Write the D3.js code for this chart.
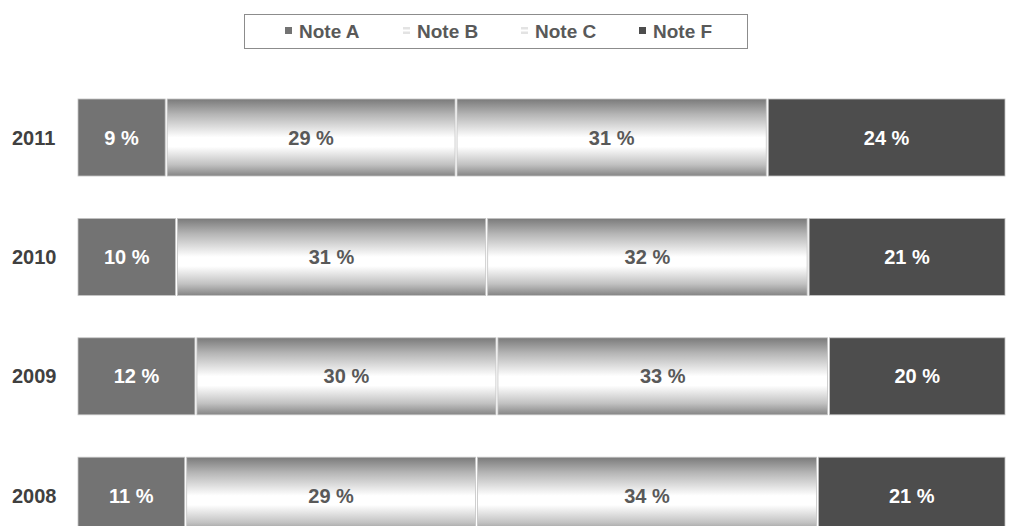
<!DOCTYPE html>
<html lang="en">
<head>
    <meta charset="UTF-8">
    <script src="https://d3js.org/d3.v7.min.js"></script>
    <title>Notes</title>
    <style>
        body { margin: 0; background: #fff; }
        text { font-family: "Liberation Sans", Arial, sans-serif; font-weight: bold; }
    </style>
</head>
<body>
<script>
    // Data
    const years = ["2011", "2010", "2009", "2008"];
    const series = ["Note A", "Note B", "Note C", "Note F"];
    // shares of each bar as drawn
    const shareA = [9.6, 10.7, 12.8, 11.7];
    const shareB = [31.2, 33.4, 32.4, 31.3];
    const shareC = [33.5, 34.6, 35.7, 36.7];
    const shareF = [25.7, 21.3, 19.1, 20.3];
    // printed labels
    const labelA = [9, 10, 12, 11];
    const labelB = [29, 31, 30, 29];
    const labelC = [31, 32, 33, 34];
    const labelF = [24, 21, 20, 21];

    const width = 1011, height = 526;
    const left = 77, right = 1006;

    const shares = {"Note A": shareA, "Note B": shareB, "Note C": shareC, "Note F": shareF};
    const labels = {"Note A": labelA, "Note B": labelB, "Note C": labelC, "Note F": labelF};

    const rows = years.map((y, i) => {
        const r = {year: y, idx: i};
        series.forEach(s => r[s] = shares[s][i]);
        return r;
    });

    const fills = {"Note A": "#737373", "Note B": "url(#shine)", "Note C": "url(#shine)", "Note F": "#4d4d4d"};
    const textCol = {"Note A": "#ffffff", "Note B": "#595959", "Note C": "#595959", "Note F": "#ffffff"};

    const svg = d3.select("body").append("svg")
        .attr("width", width)
        .attr("height", height);

    // Gradient for the light segments
    const defs = svg.append("defs");
    const grad = defs.append("linearGradient")
        .attr("id", "shine")
        .attr("x1", 0).attr("y1", 0).attr("x2", 0).attr("y2", 1);
    [[0, "#7a7a7a"], [0.2, "#b5b5b5"], [0.5, "#ffffff"], [0.62, "#ffffff"], [0.85, "#c2c2c2"], [1, "#858585"]]
        .forEach(s => grad.append("stop").attr("offset", s[0]).attr("stop-color", s[1]));

    const stack = d3.stack().keys(series).offset(d3.stackOffsetExpand);
    const stacked = stack(rows);

    const x = d3.scaleLinear().domain([0, 1]).range([left, right]);
    const y = d3.scaleBand()
        .domain(years)
        .range([77.8, 555.4])
        .paddingInner(0.355)
        .paddingOuter(0.1775);

    // Year labels
    svg.append("g").selectAll("text")
        .data(years)
        .enter().append("text")
        .attr("x", 12)
        .attr("y", d => y(d) + y.bandwidth() / 2)
        .attr("dy", "0.35em")
        .attr("font-size", 20)
        .attr("fill", "#404040")
        .text(d => d);

    // Segments
    const layer = svg.append("g").selectAll("g")
        .data(stacked)
        .enter().append("g");

    layer.selectAll("rect")
        .data(d => d.map(p => ({key: d.key, p: p})))
        .enter().append("rect")
        .attr("x", d => x(d.p[0]) + 1)
        .attr("y", d => y(d.p.data.year))
        .attr("width", d => x(d.p[1]) - x(d.p[0]) - 2)
        .attr("height", y.bandwidth())
        .attr("fill", d => fills[d.key])
        .attr("stroke", "#c4c4c4")
        .attr("stroke-width", 0.8);

    layer.selectAll("text")
        .data(d => d.map(p => ({key: d.key, p: p})))
        .enter().append("text")
        .attr("x", d => (x(d.p[0]) + x(d.p[1])) / 2)
        .attr("y", d => y(d.p.data.year) + y.bandwidth() / 2)
        .attr("dy", "0.35em")
        .attr("text-anchor", "middle")
        .attr("font-size", 20)
        .attr("fill", d => textCol[d.key])
        .text(d => labels[d.key][d.p.data.idx] + " %");

    // Legend
    const legend = svg.append("g");
    legend.append("rect")
        .attr("x", 244.5).attr("y", 14.5)
        .attr("width", 503).attr("height", 34)
        .attr("fill", "#fff")
        .attr("stroke", "#8c8c8c");

    const legX = d3.scalePoint().domain(series).range([285, 639]);
    const item = legend.selectAll(".item")
        .data(series)
        .enter().append("g")
        .attr("class", "item")
        .attr("transform", d => "translate(" + legX(d) + ",31)");
    item.append("rect")
        .attr("x", 0).attr("y", -4)
        .attr("width", 7).attr("height", 7)
        .attr("fill", d => d === "Note A" ? "#737373" : d === "Note F" ? "#4d4d4d" : "#e3e3e3");
    item.filter(d => d === "Note B" || d === "Note C").append("rect")
        .attr("x", 0).attr("y", -1.5)
        .attr("width", 7).attr("height", 2)
        .attr("fill", "#fff");
    item.append("text")
        .attr("x", 14)
        .attr("dy", "0.35em")
        .attr("font-size", 19)
        .attr("fill", "#595959")
        .text(d => d);
</script>
</body>
</html>
